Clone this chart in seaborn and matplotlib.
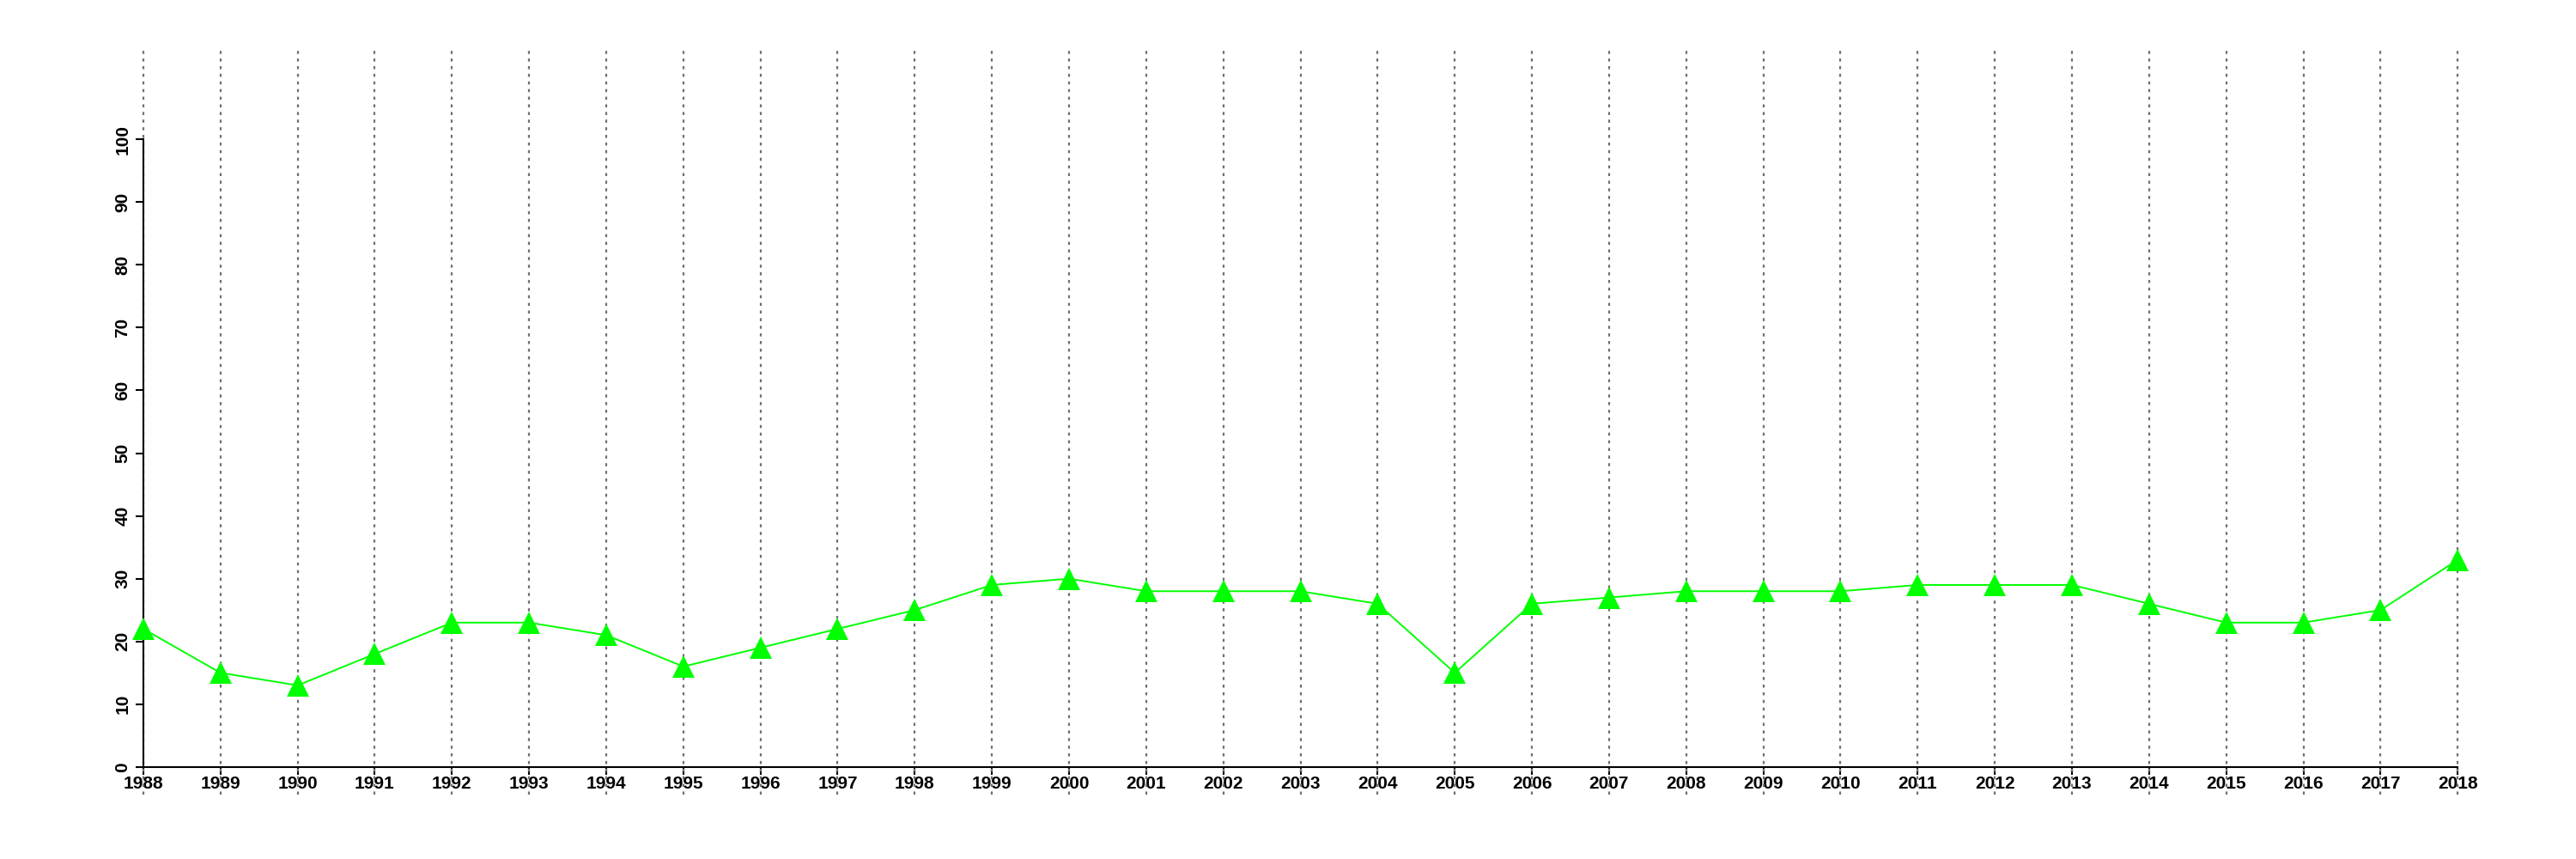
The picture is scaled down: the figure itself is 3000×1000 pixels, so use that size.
import numpy as np
import pandas as pd
import matplotlib
matplotlib.use("Agg")
import matplotlib.pyplot as plt
import seaborn as sns

sns.set_theme(style="white")
plt.rcParams['font.family'] = ['Liberation Sans', 'DejaVu Sans']

years = list(range(1988, 2019))
values = [22, 15, 13, 18, 23, 23, 21, 16, 19, 22, 25, 29, 30, 28, 28, 28, 26, 15,
          26, 27, 28, 28, 28, 29, 29, 29, 26, 23, 23, 25, 33]
yticks = list(range(0, 101, 10))

df = pd.DataFrame({"year": years, "value": values})

fig = plt.figure(figsize=(30, 10), dpi=100)
ax = fig.add_axes([0.0197, 0.075, 0.9703, 0.868])

# dotted year guides
for yr in years:
    ax.axvline(yr, color="#707070", linestyle=(0, (1.6, 2.4)), linewidth=1.6, zorder=1)

sns.lineplot(data=df, x="year", y="value", ax=ax, color="#00ff00", linewidth=1.4,
             marker="^", markersize=19, markeredgewidth=0, clip_on=False, zorder=3)

ax.set_xlim(1986.8, 2019.2)
ax.set_ylim(-4.4, 114.4)
ax.set_xlabel("")
ax.set_ylabel("")
ax.grid(False)

for side in ["top", "right"]:
    ax.spines[side].set_visible(False)
ax.spines["left"].set_position(("data", 1988))
ax.spines["bottom"].set_position(("data", 0))
ax.spines["left"].set_bounds(0, 100)
ax.spines["bottom"].set_bounds(1988, 2018)
for side in ["left", "bottom"]:
    ax.spines[side].set_color("black")
    ax.spines[side].set_linewidth(1.5)

ax.tick_params(axis="both", which="both", direction="out", length=6.5, width=1.5,
               color="black", labelcolor="black", labelsize=15, left=True, bottom=True)
ax.tick_params(axis="x", pad=1)
ax.tick_params(axis="y", pad=4)

ax.set_xticks(years)
ax.set_yticks(yticks)
ax.set_xticklabels([str(y) for y in years])
ax.set_yticklabels([str(v) for v in yticks])
for lab in ax.get_xticklabels():
    lab.set_fontweight("bold")
    lab.set_fontsize(15)
for lab in ax.get_yticklabels():
    lab.set_fontweight("bold")
    lab.set_fontsize(15)
    lab.set_rotation(90)
    lab.set_va("center")

fig.savefig("out.png", dpi=100)
